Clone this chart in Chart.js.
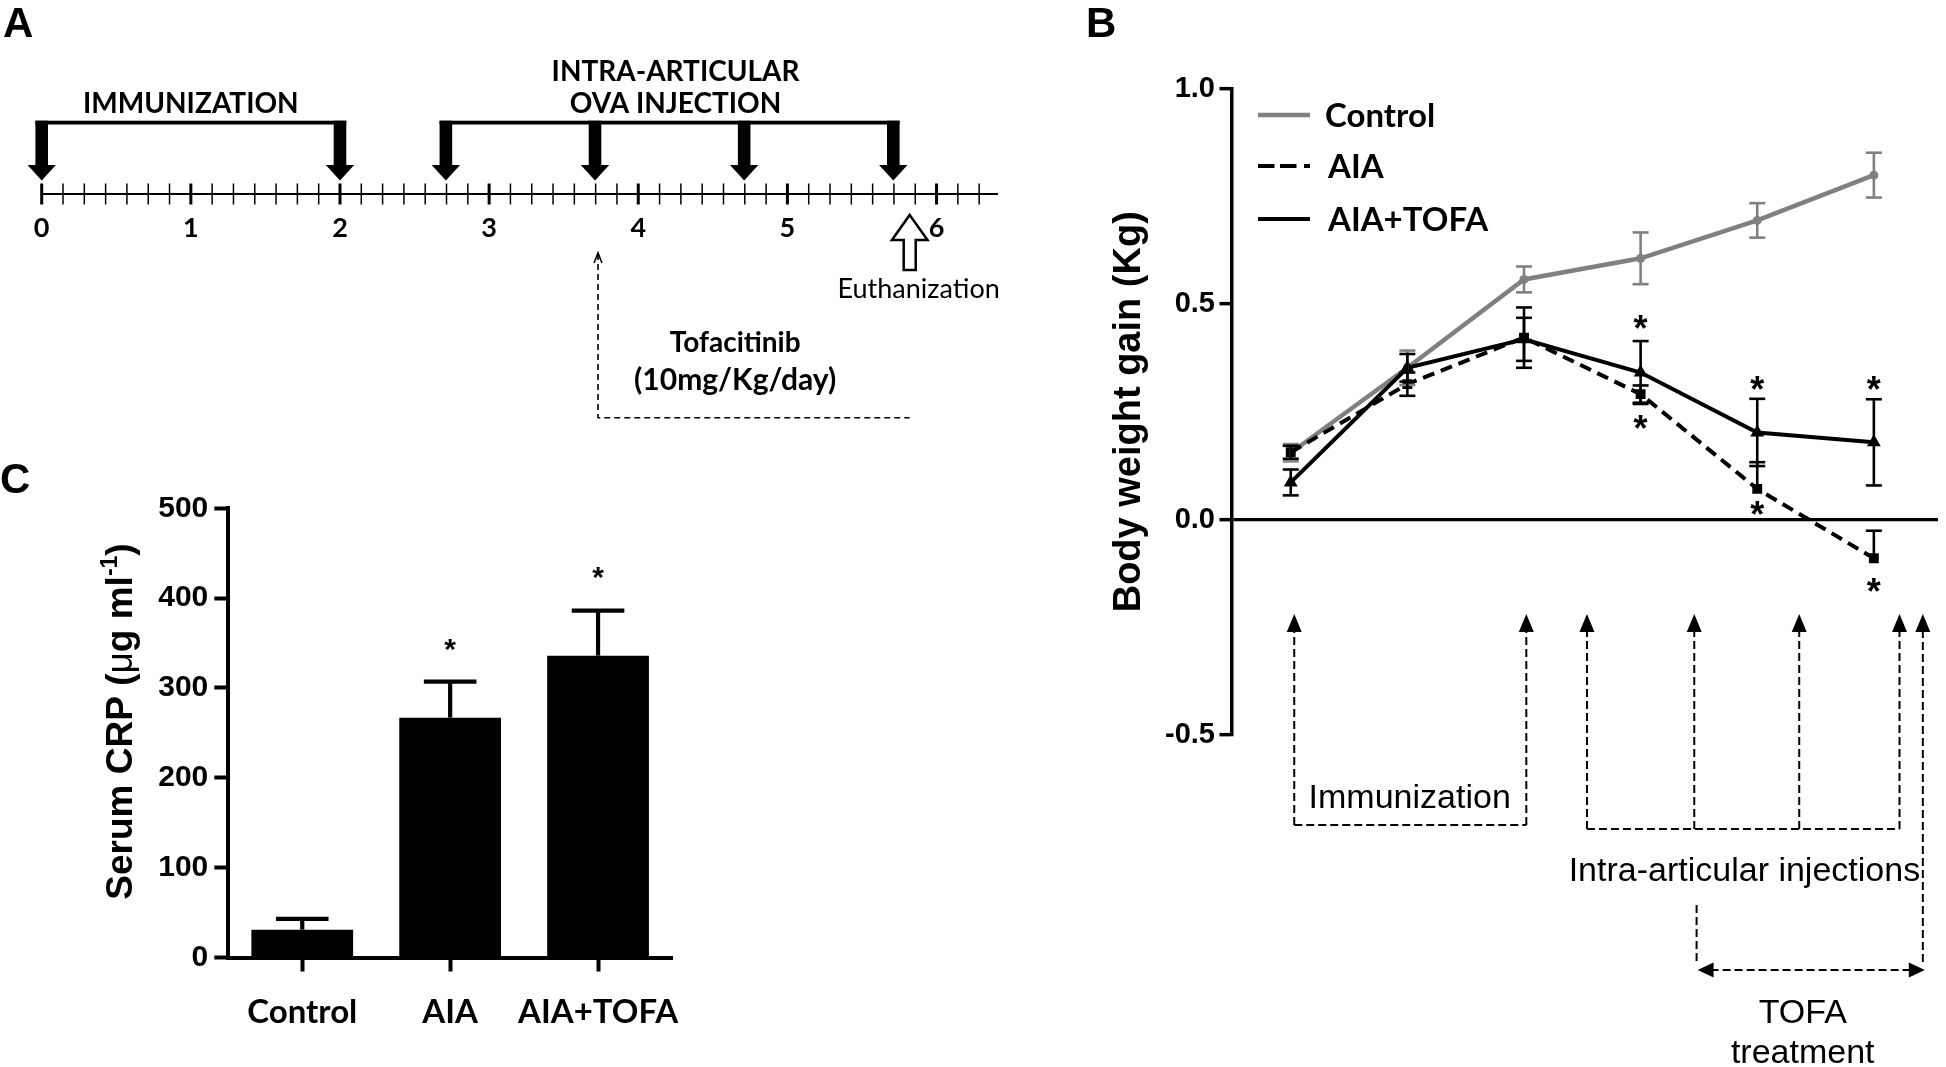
<!DOCTYPE html>
<html>
<head>
<meta charset="utf-8">
<script src="https://cdn.jsdelivr.net/npm/chart.js@4.4.1/dist/chart.umd.min.js"></script>
<style>
  html, body { margin: 0; padding: 0; background: #fff; overflow: hidden; }
  #fig { position: relative; width: 1946px; height: 1067px; background: #fff; }
  .panel { position: absolute; }
</style>
</head>
<body>
<div id="fig">
  <div class="panel" style="left:0;top:0;width:1040px;height:450px"><canvas id="panelA"></canvas></div>
  <div class="panel" style="left:1050px;top:0;width:896px;height:1067px"><canvas id="panelB"></canvas></div>
  <div class="panel" style="left:0;top:450px;width:720px;height:617px"><canvas id="panelC"></canvas></div>
</div>
<script>
const ARIAL = "'Liberation Sans', Arial, sans-serif";
const CALIBRI = "Lato, 'Liberation Sans', sans-serif";

// A: protocol timeline, in weeks
const timelineLabels = [0, 1, 2, 3, 4, 5, 6];
const immunizationWeeks = [0, 2];
const injectionWeeks = [2.71, 3.71, 4.71, 5.71];
const tofaStartWeek = 3.73;
const euthanizationWeek = 5.82;
const timelineEnd = 6.41;

// B: body weight gain (Kg) per week
const weeks = [0, 1, 2, 3, 4, 5];
const controlGain = [0.155, 0.352, 0.557, 0.606, 0.694, 0.799];
const controlErr = [0.02, 0.04, 0.03, 0.06, 0.04, 0.052];
const aiaGain = [0.156, 0.314, 0.422, 0.291, 0.071, -0.09];
const aiaErrUp = [0.015, 0.027, 0.07, 0.02, 0.062, 0.064];
const aiaErrDown = [0.015, 0.027, 0.07, 0.02, 0, 0];
const tofaGain = [0.086, 0.352, 0.418, 0.341, 0.202, 0.179];
const tofaErr = [0.03, 0.032, 0.05, 0.073, 0.078, 0.1];
const tofaStars = [null, null, null, 0.458, 0.316, 0.316];
const aiaStars = [null, null, null, 0.226, 0.027, -0.153];
const bodyTicks = [-0.5, 0, 0.5, 1.0];
// B: schedule drawn under the plot (weeks)
const immunizationMarks = [0.03, 2.02];
const injectionMarks = [2.54, 3.46, 4.36, 5.22];
const tofaMarks = [3.48, 5.42];

// C: serum CRP (ug/ml)
const crpGroups = ['Control', 'AIA', 'AIA+TOFA'];
const crpMean = [31, 267, 336];
const crpErr = [12, 40, 50];
const crpStars = [null, 348, 428];
const crpTicks = [0, 100, 200, 300, 400, 500];

function txt(ctx, s, x, y, font, align) {
  ctx.font = font;
  ctx.fillStyle = '#000';
  ctx.textAlign = align || 'center';
  ctx.textBaseline = 'alphabetic';
  ctx.fillText(s, x, y);
}

function star(ctx, x, y, size) {
  ctx.font = 'bold ' + size + 'px ' + ARIAL;
  ctx.fillStyle = '#000';
  ctx.textAlign = 'center';
  ctx.textBaseline = 'alphabetic';
  const m = ctx.measureText('*');
  ctx.fillText('*', x, y + (m.actualBoundingBoxAscent - m.actualBoundingBoxDescent) / 2);
}

function line(ctx, x1, y1, x2, y2) {
  ctx.beginPath();
  ctx.moveTo(x1, y1);
  ctx.lineTo(x2, y2);
  ctx.stroke();
}

function downArrow(ctx, x, top, headBase, tip, shaftW, headW) {
  ctx.beginPath();
  ctx.moveTo(x - shaftW / 2, top);
  ctx.lineTo(x + shaftW / 2, top);
  ctx.lineTo(x + shaftW / 2, headBase);
  ctx.lineTo(x + headW / 2, headBase);
  ctx.lineTo(x, tip);
  ctx.lineTo(x - headW / 2, headBase);
  ctx.lineTo(x - shaftW / 2, headBase);
  ctx.closePath();
}

function head(ctx, tx, ty, dx, dy, len, half) {
  // filled triangle, tip at (tx,ty), pointing along (dx,dy)
  const bx = tx - dx * len, by = ty - dy * len;
  ctx.beginPath();
  ctx.moveTo(tx, ty);
  ctx.lineTo(bx - dy * half, by + dx * half);
  ctx.lineTo(bx + dy * half, by - dx * half);
  ctx.closePath();
  ctx.fill();
}

// ---------- A ----------
const timelinePlugin = {
  id: 'timeline',
  afterDraw(chart) {
    const ctx = chart.ctx;
    const xs = chart.scales.x;
    const axisY = chart.scales.y.getPixelForValue(0);
    const px = w => xs.getPixelForValue(w);
    ctx.save();
    ctx.strokeStyle = '#000';
    ctx.fillStyle = '#000';

    xs.ticks.forEach(t => {
      const major = Math.abs(t.value - Math.round(t.value)) < 1e-6;
      ctx.lineWidth = major ? 3 : 1.5;
      line(ctx, px(t.value), axisY - 10.5, px(t.value), axisY + 10.5);
    });

    const bracketTop = axisY - 73.3, headBase = axisY - 29, tip = axisY - 13.5;
    [immunizationWeeks, injectionWeeks].forEach(group => {
      const first = px(group[0]), last = px(group[group.length - 1]);
      ctx.fillRect(first - 6.3, bracketTop, last - first + 12.6, 3.8);
      group.forEach(w => {
        downArrow(ctx, px(w), bracketTop, headBase, tip, 12.6, 28.4);
        ctx.fill();
      });
    });

    // euthanization (open arrow pointing up)
    const ex = px(euthanizationWeek);
    ctx.beginPath();
    ctx.moveTo(ex, axisY + 21);
    ctx.lineTo(ex + 17.8, axisY + 46);
    ctx.lineTo(ex + 6, axisY + 46);
    ctx.lineTo(ex + 6, axisY + 76);
    ctx.lineTo(ex - 6, axisY + 76);
    ctx.lineTo(ex - 6, axisY + 46);
    ctx.lineTo(ex - 17.8, axisY + 46);
    ctx.closePath();
    ctx.fillStyle = '#fff';
    ctx.fill();
    ctx.lineWidth = 2.5;
    ctx.stroke();
    ctx.fillStyle = '#000';

    // tofacitinib period
    const tx = px(tofaStartWeek);
    ctx.lineWidth = 1.6;
    ctx.setLineDash([6, 4]);
    ctx.beginPath();
    ctx.moveTo(tx, axisY + 60);
    ctx.lineTo(tx, axisY + 223.7);
    ctx.lineTo(px(euthanizationWeek), axisY + 223.7);
    ctx.stroke();
    ctx.setLineDash([]);
    ctx.beginPath();
    ctx.moveTo(tx - 4, axisY + 69);
    ctx.lineTo(tx, axisY + 59);
    ctx.lineTo(tx + 4, axisY + 69);
    ctx.stroke();

    const bold = s => `bold ${s}px ${CALIBRI}`;
    txt(ctx, 'IMMUNIZATION', px(1.0), axisY - 80.7, bold(28));
    txt(ctx, 'INTRA-ARTICULAR', px(4.25), axisY - 113, bold(28));
    txt(ctx, 'OVA INJECTION', px(4.25), axisY - 81, bold(28));
    txt(ctx, 'Tofacitinib', px(4.65), axisY + 158, bold(28));
    txt(ctx, '(10mg/Kg/day)', px(4.65), axisY + 196, bold(30));
    txt(ctx, 'Euthanization', px(5.88), axisY + 104.3, `27px ${CALIBRI}`);
    txt(ctx, 'A', 3, 37, `bold 42px ${ARIAL}`, 'left');
    ctx.restore();
  }
};

new Chart(document.getElementById('panelA'), {
  type: 'scatter',
  data: { datasets: [] },
  options: {
    responsive: true,
    maintainAspectRatio: false,
    animation: false,
    events: [],
    layout: { padding: { left: 41.7, right: 42.3, top: 0, bottom: 0 } },
    plugins: { legend: { display: false }, tooltip: { enabled: false } },
    scales: {
      x: {
        type: 'linear',
        min: 0,
        max: timelineEnd,
        position: { y: 0 },
        grid: { display: false, drawTicks: false },
        border: { display: true, color: '#000', width: 2 },
        ticks: {
          stepSize: 1 / 7,
          autoSkip: false,
          includeBounds: false,
          maxRotation: 0,
          padding: 18,
          color: '#000',
          font: { family: CALIBRI, weight: 'bold', size: 27 },
          callback: v => {
            const r = Math.round(v);
            return Math.abs(v - r) < 1e-6 && timelineLabels.includes(r) ? String(r) : '';
          }
        }
      },
      y: { type: 'linear', min: -256, max: 194, display: false }
    }
  },
  plugins: [timelinePlugin]
});

// ---------- B ----------
const bodyPlugin = {
  id: 'bodyExtras',
  afterDatasetsDraw(chart) {
    const ctx = chart.ctx;
    const xs = chart.scales.x, ys = chart.scales.y;
    const series = [
      [controlGain, controlErr, controlErr, '#808080'],
      [aiaGain, aiaErrUp, aiaErrDown, '#000'],
      [tofaGain, tofaErr, tofaErr, '#000']
    ];
    ctx.save();
    ctx.lineWidth = 2.6;
    series.forEach(([vals, up, down, col]) => {
      ctx.strokeStyle = col;
      vals.forEach((v, i) => {
        const x = xs.getPixelForValue(weeks[i]);
        const yt = ys.getPixelForValue(v + up[i]);
        const yb = ys.getPixelForValue(v - down[i]);
        line(ctx, x, yt, x, yb);
        line(ctx, x - 8, yt, x + 8, yt);
        if (down[i] > 0) line(ctx, x - 8, yb, x + 8, yb);
      });
    });
    ctx.restore();
  },
  afterDraw(chart) {
    const ctx = chart.ctx;
    const xs = chart.scales.x, ys = chart.scales.y;
    const px = w => xs.getPixelForValue(w);
    ctx.save();
    ctx.fillStyle = '#000';
    ctx.strokeStyle = '#000';

    [tofaStars, aiaStars].forEach(list => list.forEach((v, i) => {
      if (v !== null) star(ctx, px(weeks[i]), ys.getPixelForValue(v), 36);
    }));

    // legend
    const lx1 = 208, lx2 = 260, tx = 275;
    const lf = `bold 33px ${CALIBRI}`;
    ctx.font = lf;
    const capH = ctx.measureText('H').actualBoundingBoxAscent;
    ctx.lineWidth = 4.5;
    ctx.strokeStyle = '#808080';
    line(ctx, lx1, 115, lx2, 115);
    ctx.strokeStyle = '#000';
    ctx.lineWidth = 4;
    line(ctx, lx1, 166, lx1 + 16.5, 166);
    line(ctx, lx1 + 22, 166, lx1 + 38.5, 166);
    line(ctx, lx1 + 46, 166, lx2, 166);
    line(ctx, lx1, 219, lx2, 219);
    txt(ctx, 'Control', tx, 115 + capH / 2, lf, 'left');
    txt(ctx, 'AIA', tx + 3, 166 + capH / 2, lf, 'left');
    txt(ctx, 'AIA+TOFA', tx + 3, 219 + capH / 2, lf, 'left');

    // schedule arrows under the plot
    const tipY = 614;
    ctx.lineWidth = 2;
    const upArrow = (x, bottom) => {
      ctx.setLineDash([8, 4]);
      line(ctx, x, bottom, x, tipY + 16);
      ctx.setLineDash([]);
      head(ctx, x, tipY, 0, -1, 18, 7.5);
    };
    const dashed = (x1, y1, x2, y2) => {
      ctx.setLineDash([8, 4]);
      line(ctx, x1, y1, x2, y2);
      ctx.setLineDash([]);
    };
    immunizationMarks.forEach(w => upArrow(px(w), 825));
    dashed(px(immunizationMarks[0]), 825, px(immunizationMarks[1]), 825);
    injectionMarks.forEach(w => upArrow(px(w), 829));
    dashed(px(injectionMarks[0]), 829, px(injectionMarks[3]), 829);
    upArrow(px(tofaMarks[1]), 962);
    dashed(px(tofaMarks[0]), 905, px(tofaMarks[0]), 962);
    dashed(px(tofaMarks[0]) + 14, 970, px(tofaMarks[1]) - 12, 970);
    head(ctx, px(tofaMarks[0]) + 1, 970, -1, 0, 16, 7.5);
    head(ctx, px(tofaMarks[1]) + 2, 970, 1, 0, 16, 7.5);

    const af = `34px ${ARIAL}`;
    txt(ctx, 'Immunization', px(1.02), 808, af);
    txt(ctx, 'Intra-articular injections', px(3.89), 881, af);
    txt(ctx, 'TOFA', px(4.39), 1023, af);
    txt(ctx, 'treatment', px(4.39), 1063, af);

    txt(ctx, 'B', 36, 37, `bold 42px ${ARIAL}`, 'left');
    ctx.restore();
  }
};

const pts = vals => vals.map((v, i) => ({ x: weeks[i], y: v }));

new Chart(document.getElementById('panelB'), {
  type: 'line',
  data: {
    datasets: [
      {
        label: 'Control',
        data: pts(controlGain),
        borderColor: '#808080',
        borderWidth: 4.5,
        pointStyle: 'circle',
        pointRadius: 4.5,
        pointBackgroundColor: '#808080',
        pointBorderWidth: 0,
        order: 3
      },
      {
        label: 'AIA',
        data: pts(aiaGain),
        borderColor: '#000',
        borderWidth: 4,
        borderDash: [12, 7],
        pointStyle: 'rect',
        pointRadius: 7,
        pointBackgroundColor: '#000',
        pointBorderWidth: 0,
        order: 2
      },
      {
        label: 'AIA+TOFA',
        data: pts(tofaGain),
        borderColor: '#000',
        borderWidth: 4,
        pointStyle: 'triangle',
        pointRadius: 8,
        pointBackgroundColor: '#000',
        pointBorderWidth: 0,
        order: 1
      }
    ]
  },
  options: {
    responsive: true,
    maintainAspectRatio: false,
    animation: false,
    events: [],
    layout: { padding: { left: 0, right: 0, top: 88.5, bottom: 332 } },
    plugins: { legend: { display: false }, tooltip: { enabled: false } },
    scales: {
      x: { type: 'linear', min: -0.508, max: 5.55, display: false },
      y: {
        min: -0.5,
        max: 1.0,
        afterBuildTicks: s => { s.ticks = bodyTicks.map(v => ({ value: v })); },
        afterFit: s => { s.width = 181.5; },
        ticks: {
          color: '#000',
          padding: 4.5,
          font: { family: ARIAL, weight: 'bold', size: 29 },
          callback: v => Number(v).toFixed(1)
        },
        grid: {
          color: c => (c.tick && c.tick.value === 0 ? '#000' : 'rgba(0,0,0,0)'),
          lineWidth: 3.3,
          tickColor: '#000',
          tickWidth: 3.5,
          tickLength: 12
        },
        border: { display: true, color: '#000', width: 3.5 },
        title: {
          display: true,
          text: 'Body weight gain (Kg)',
          color: '#000',
          font: { family: ARIAL, weight: 'bold', size: 38 },
          padding: { top: 57, bottom: 0 }
        }
      }
    }
  },
  plugins: [bodyPlugin]
});

// ---------- C ----------
const crpPlugin = {
  id: 'crpExtras',
  afterDatasetsDraw(chart) {
    const ctx = chart.ctx;
    const xs = chart.scales.x, ys = chart.scales.y;
    ctx.save();
    ctx.strokeStyle = '#000';
    ctx.lineWidth = 4.2;
    crpMean.forEach((v, i) => {
      const x = xs.getPixelForValue(i);
      const yt = ys.getPixelForValue(v + crpErr[i]);
      line(ctx, x, ys.getPixelForValue(v), x, yt);
      line(ctx, x - 26.3, yt, x + 26.3, yt);
    });
    crpStars.forEach((v, i) => {
      if (v !== null) star(ctx, xs.getPixelForValue(i), ys.getPixelForValue(v), 30);
    });
    ctx.restore();
  },
  afterDraw(chart) {
    const ctx = chart.ctx;
    ctx.save();
    const big = 37, sup = 23;
    const parts = [
      ['Serum CRP (', `bold ${big}px ${ARIAL}`, 0],
      ['\u03bc', `${big}px ${ARIAL}`, 0],
      ['g ml', `bold ${big}px ${ARIAL}`, 0],
      ['-1', `bold ${sup}px ${ARIAL}`, -15],
      [')', `bold ${big}px ${ARIAL}`, 0]
    ];
    let total = 0;
    parts.forEach(p => { ctx.font = p[1]; p.push(ctx.measureText(p[0]).width); total += p[3]; });
    ctx.translate(122, 271.5);
    ctx.rotate(-Math.PI / 2);
    let x = -total / 2;
    parts.forEach(p => {
      txt(ctx, p[0], x, 9.6 + p[2], p[1], 'left');
      x += p[3];
    });
    ctx.restore();
    ctx.save();
    txt(ctx, 'C', 0, 43, `bold 42px ${ARIAL}`, 'left');
    ctx.restore();
  }
};

new Chart(document.getElementById('panelC'), {
  type: 'bar',
  data: {
    labels: crpGroups,
    datasets: [{
      data: crpMean,
      backgroundColor: '#000',
      borderWidth: 0,
      barPercentage: 0.688,
      categoryPercentage: 1
    }]
  },
  options: {
    responsive: true,
    maintainAspectRatio: false,
    animation: false,
    events: [],
    layout: { padding: { left: 0, right: 48, top: 58.3, bottom: 0 } },
    plugins: { legend: { display: false }, tooltip: { enabled: false } },
    scales: {
      x: {
        afterFit: s => { s.height = 109.5; },
        grid: { display: true, drawOnChartArea: false, offset: false, tickColor: '#000', tickWidth: 4, tickLength: 14 },
        border: { display: true, color: '#000', width: 4 },
        ticks: {
          color: '#000',
          padding: 20.7,
          autoSkip: false,
          maxRotation: 0,
          minRotation: 0,
          font: { family: CALIBRI, weight: 'bold', size: 33 }
        }
      },
      y: {
        min: 0,
        max: 500,
        afterBuildTicks: s => { s.ticks = crpTicks.map(v => ({ value: v })); },
        afterFit: s => { s.width = 228.3; },
        grid: { display: true, drawOnChartArea: false, tickColor: '#000', tickWidth: 4, tickLength: 14 },
        border: { display: true, color: '#000', width: 4 },
        ticks: { color: '#000', padding: 6, font: { family: ARIAL, weight: 'bold', size: 30 } }
      }
    }
  },
  plugins: [crpPlugin]
});
</script>
</body>
</html>
